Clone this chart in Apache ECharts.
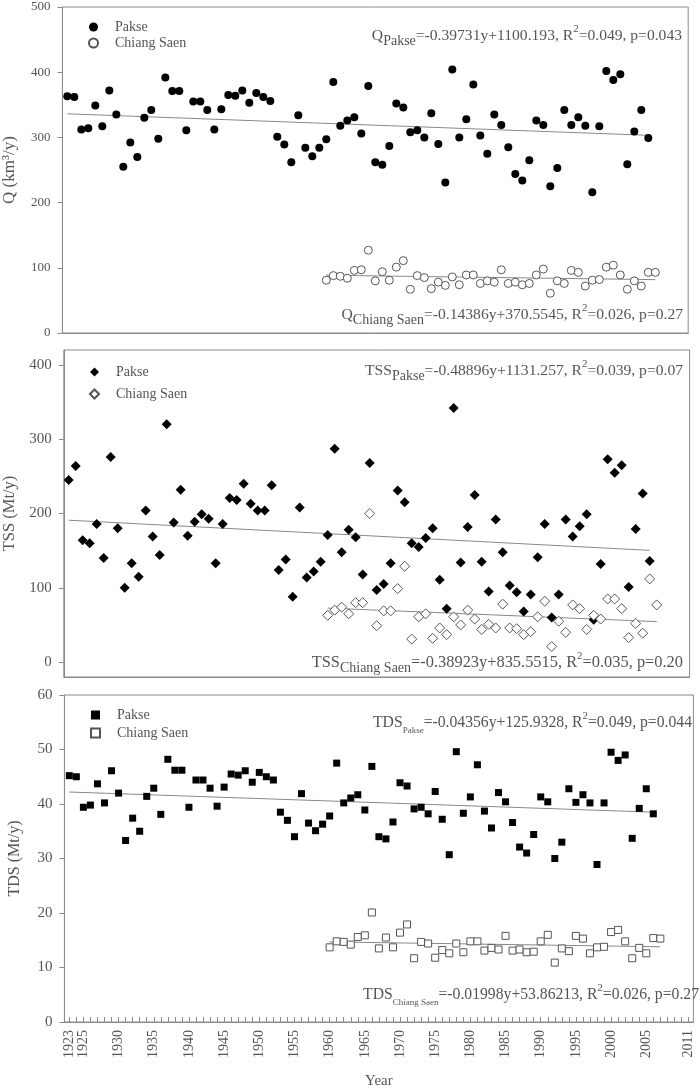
<!DOCTYPE html>
<html><head><meta charset="utf-8">
<script src="https://cdn.jsdelivr.net/npm/echarts@6/dist/echarts.min.js"></script>
<style>html,body{margin:0;padding:0;background:#fff}#c{width:700px;height:1088px}</style>
</head><body><div id="c"></div><script>
const paksYears=[1923,1924,1925,1926,1927,1928,1929,1930,1931,1932,1933,1934,1935,1936,1937,1938,1939,1940,1941,1942,1943,1944,1945,1946,1947,1948,1949,1950,1951,1952,1953,1954,1955,1956,1957,1958,1959,1960,1961,1962,1963,1964,1965,1966,1967,1968,1969,1970,1971,1972,1973,1974,1975,1976,1977,1978,1979,1980,1981,1982,1983,1984,1985,1986,1987,1988,1989,1990,1991,1992,1993,1994,1995,1996,1997,1998,1999,2000,2001,2002,2003,2004,2005,2006];
const csYears=[1960,1961,1962,1963,1964,1965,1966,1967,1968,1969,1970,1971,1972,1973,1974,1975,1976,1977,1978,1979,1980,1981,1982,1983,1984,1985,1986,1987,1988,1989,1990,1991,1992,1993,1994,1995,1996,1997,1998,1999,2000,2001,2002,2003,2004,2005,2006,2007];

const qPakse=[363,362,312,314,349,317,372,
335,255,292,270,330,342,298,392,371,371,
311,355,355,342,312,343,365,364,372,353,
368,362,356,301,289,262,334,284,271,284,
297,385,318,326,331,306,379,262,258,287,
352,346,308,311,300,337,290,231,404,300,
328,381,303,275,335,319,285,244,234,265,
326,319,225,253,342,319,331,318,216,317,
402,388,397,259,309,342,299];
const qCS=[81,88,87,84,96,97,127,80,94,81,
101,111,67,88,85,68,78,73,86,74,
89,89,76,80,78,97,76,78,74,76,
89,98,61,80,76,96,93,72,81,82,
101,104,89,67,80,72,93,93];

const tssPakse=[245,264,164,160,186,140,276,
180,100,133,115,204,169,144,320,188,232,
170,189,199,193,133,186,221,218,240,213,
204,204,238,124,138,88,208,114,122,135,
171,287,148,178,168,118,268,97,105,133,
231,215,160,155,167,180,111,72,342,134,
182,225,135,95,192,148,103,94,68,91,
141,186,60,91,192,169,183,199,57,132,
273,255,265,101,179,227,136];
const tssCS=[63,70,74,65,80,80,200,49,69,69,
99,129,31,61,65,32,46,37,61,50,
70,58,44,51,46,78,46,45,37,41,
61,82,21,55,40,77,72,44,63,58,
85,85,72,33,52,39,112,77];

const tdsPakse=[45.2,45.0,39.4,39.8,43.7,40.2,46.1,
42.0,33.3,37.4,35.0,41.4,42.9,38.1,48.2,46.2,46.2,
39.4,44.4,44.4,42.9,39.6,43.1,45.5,45.3,46.1,44.0,
45.8,45.0,44.4,38.5,37.0,34.0,41.9,36.5,35.1,36.3,
37.8,47.5,40.2,41.1,41.7,38.9,46.9,34.0,33.6,36.7,
43.9,43.3,39.1,39.4,38.2,42.3,37.2,30.7,49.6,38.3,
41.3,47.2,38.7,35.6,42.1,40.4,36.6,32.1,31.0,34.4,
41.3,40.4,30.0,33.0,42.8,40.3,41.7,40.2,28.9,40.2,
49.5,48.0,49.0,33.7,39.2,42.8,38.2];
const tdsCS=[13.7,14.8,14.7,14.2,15.6,15.9,20.1,13.5,15.5,13.7,
16.4,17.9,11.7,14.7,14.4,11.8,13.2,12.6,14.4,12.8,
14.8,14.8,13.1,13.6,13.3,15.8,13.1,13.3,12.8,12.9,
14.8,16.0,10.9,13.5,13.0,15.8,15.3,12.6,13.7,13.8,
16.5,16.9,14.8,11.7,13.6,12.6,15.4,15.3];

// trend line end points
const qPakseTrend=[[1923,336.2],[2006,303.2]];
const qCSTrend=[[1960,88.6],[2007,81.8]];
const tssPakseTrend=[[1923,191.0],[2006,150.4]];
const tssCSTrend=[[1960,72.7],[2007,54.5]];
const tdsPakseTrend=[[1923,42.2],[2006,38.5]];
const tdsCSTrend=[[1960,14.7],[2007,13.8]];

const xTickYears=[1923,1924,1925,1926,1927,1928,1929,1930,1931,1932,1933,1934,1935,1936,1937,1938,1939,1940,1941,1942,1943,1944,1945,1946,1947,1948,1949,1950,1951,1952,1953,1954,1955,1956,1957,1958,1959,1960,1961,1962,1963,1964,1965,1966,1967,1968,1969,1970,1971,1972,1973,1974,1975,1976,1977,1978,1979,1980,1981,1982,1983,1984,1985,1986,1987,1988,1989,1990,1991,1992,1993,1994,1995,1996,1997,1998,1999,2000,2001,2002,2003,2004,2005,2006,2007,2008,2009,2010,2011];
const xLabelYears=[1923,1925,1930,1935,1940,1945,1950,1955,1960,1965,1970,1975,1980,1985,1990,1995,2000,2005,2011];
const qTicks=[0,100,200,300,400,500];
const tssTicks=[0,100,200,300,400];
const tdsTicks=[0,10,20,30,40,50,60];

const FONT='"Liberation Serif","Times New Roman",serif';
const TXT='#555';
const AX='#8a8a8a';

function zip(xs,ys){return xs.map((x,i)=>[x,ys[i]]);}

const grids=[
  {left:62.4,right:11.8,top:7,height:326},
  {left:63.8,right:10.4,top:350,height:327},
  {left:64.4,right:6.6,top:695,height:327}
].map(g=>Object.assign({show:true,borderColor:AX,borderWidth:1,backgroundColor:'transparent',outerBoundsMode:'none',containLabel:false},g));

function xAx(i,last){
  return {type:'value',gridIndex:i,min:1922.3,max:2011.7,
    axisLine:{show:true,onZero:false,lineStyle:{color:AX}},
    axisTick:last?{show:true,inside:true,length:5,customValues:xTickYears,lineStyle:{color:AX}}:{show:false},
    axisLabel:last?{show:true,customValues:xLabelYears,rotate:90,margin:8,fontFamily:FONT,fontSize:14,color:TXT,formatter:v=>String(v)}:{show:false},
    splitLine:{show:false},
    name:last?'Year':'',nameLocation:'middle',nameGap:52,
    nameTextStyle:{fontFamily:FONT,fontSize:15,color:TXT}};
}
function yAx(i,min,max,ticks,name,fs,nfs,gap){
  return {type:'value',gridIndex:i,min:min,max:max,
    axisLine:{show:true,onZero:false,lineStyle:{color:AX}},
    axisTick:{show:true,inside:false,length:5,customValues:ticks,lineStyle:{color:AX}},
    axisLabel:{show:true,customValues:ticks,margin:12,fontFamily:FONT,fontSize:fs,color:TXT},
    splitLine:{show:false},
    name:name,nameLocation:'middle',nameGap:gap,nameRotate:90,
    nameTextStyle:{fontFamily:FONT,fontSize:nfs,color:TXT}};
}

function scat(name,i,data,symbol,size,filled){
  return {type:'scatter',name:name,xAxisIndex:i,yAxisIndex:i,data:data,symbol:symbol,symbolSize:size,
    itemStyle:filled?{color:'#000',borderColor:'#000',borderWidth:0,opacity:1}:{color:'#fff',borderColor:'#555',borderWidth:1,opacity:1},
    emphasis:{disabled:true},z:filled?3:4,silent:true};
}
function trend(i,data){
  return {type:'line',xAxisIndex:i,yAxisIndex:i,data:data,symbol:'none',
    lineStyle:{color:'#888',width:1},z:2,silent:true};
}

const legNames={QP:'Pakse',QC:'Chiang Saen',SP:'Pakse',SC:'Chiang Saen',DP:'Pakse',DC:'Chiang Saen'};
function leg(data,left,top,gap){
  return {data:data,orient:'vertical',left:left,top:top,itemWidth:9,itemHeight:9,itemGap:gap,
    selectedMode:false,formatter:n=>legNames[n],
    textStyle:{fontFamily:FONT,fontSize:14,color:TXT,lineHeight:14,padding:[0,0,0,12]}};
}

function eq(x,y,main,sub,rest1,rest2,subSize,mainSize){
  return {type:'text',x:x,y:y,silent:true,
    style:{text:'{m|'+main+'}{s|'+sub+'}{m|'+rest1+'}{p|2}{m|'+rest2+'}',
      align:'right',verticalAlign:'middle',
      rich:{
        m:{fontFamily:FONT,fontSize:mainSize,fill:TXT,color:TXT,lineHeight:24,verticalAlign:'middle'},
        s:{fontFamily:FONT,fontSize:subSize,fill:TXT,color:TXT,lineHeight:subSize+(subSize<12?2:4),verticalAlign:'bottom'},
        p:{fontFamily:FONT,fontSize:11,fill:TXT,color:TXT,lineHeight:12,verticalAlign:'top'}
      }}};
}

const option={
  animation:false,
  grid:grids,
  xAxis:[xAx(0,false),xAx(1,false),xAx(2,true)],
  yAxis:[yAx(0,0,500,qTicks,'Q (km³/y)',13,17,44),yAx(1,-20,420,tssTicks,'TSS (Mt/y)',15,16.5,45),yAx(2,0,60,tdsTicks,'TDS (Mt/y)',15,16,42)],
  legend:[leg(['QP','QC'],83,15,2),leg(['SP','SC'],84,360,8),leg(['DP','DC'],85,703,4)],
  series:[
    trend(0,qPakseTrend),trend(0,qCSTrend),
    scat('QP',0,zip(paksYears,qPakse),'circle',8,true),
    scat('QC',0,zip(csYears,qCS),'circle',8,false),
    trend(1,tssPakseTrend),trend(1,tssCSTrend),
    scat('SP',1,zip(paksYears,tssPakse),'diamond',10,true),
    scat('SC',1,zip(csYears,tssCS),'diamond',10,false),
    trend(2,tdsPakseTrend),trend(2,tdsCSTrend),
    scat('DP',2,zip(paksYears,tdsPakse),'rect',7,true),
    scat('DC',2,zip(csYears,tdsCS),'rect',7,false)
  ],
  graphic:[
    eq(682,36,'Q','Pakse','=-0.39731y+1100.193, R','=0.049, p=0.043',14,15.6),
    eq(683,315,'Q','Chiang Saen','=-0.14386y+370.5545, R','=0.026, p=0.27',14,15.6),
    eq(683,371,'TSS','Pakse','=-0.48896y+1131.257, R','=0.039, p=0.07',14,15.6),
    eq(683,663,'TSS','Chiang Saen','=-0.38923y+835.5515, R','=0.035, p=0.20',14,16.4),
    eq(692,723,'TDS','Pakse','=-0.04356y+125.9328, R','=0.049, p=0.044',9,15.7),
    eq(699,995,'TDS','Chiang Saen','=-0.01998y+53.86213, R','=0.026, p=0.27',9,15.7)
  ]
};
const chart=echarts.init(document.getElementById('c'),null,{renderer:'canvas'});
chart.setOption(option);
</script></body></html>
